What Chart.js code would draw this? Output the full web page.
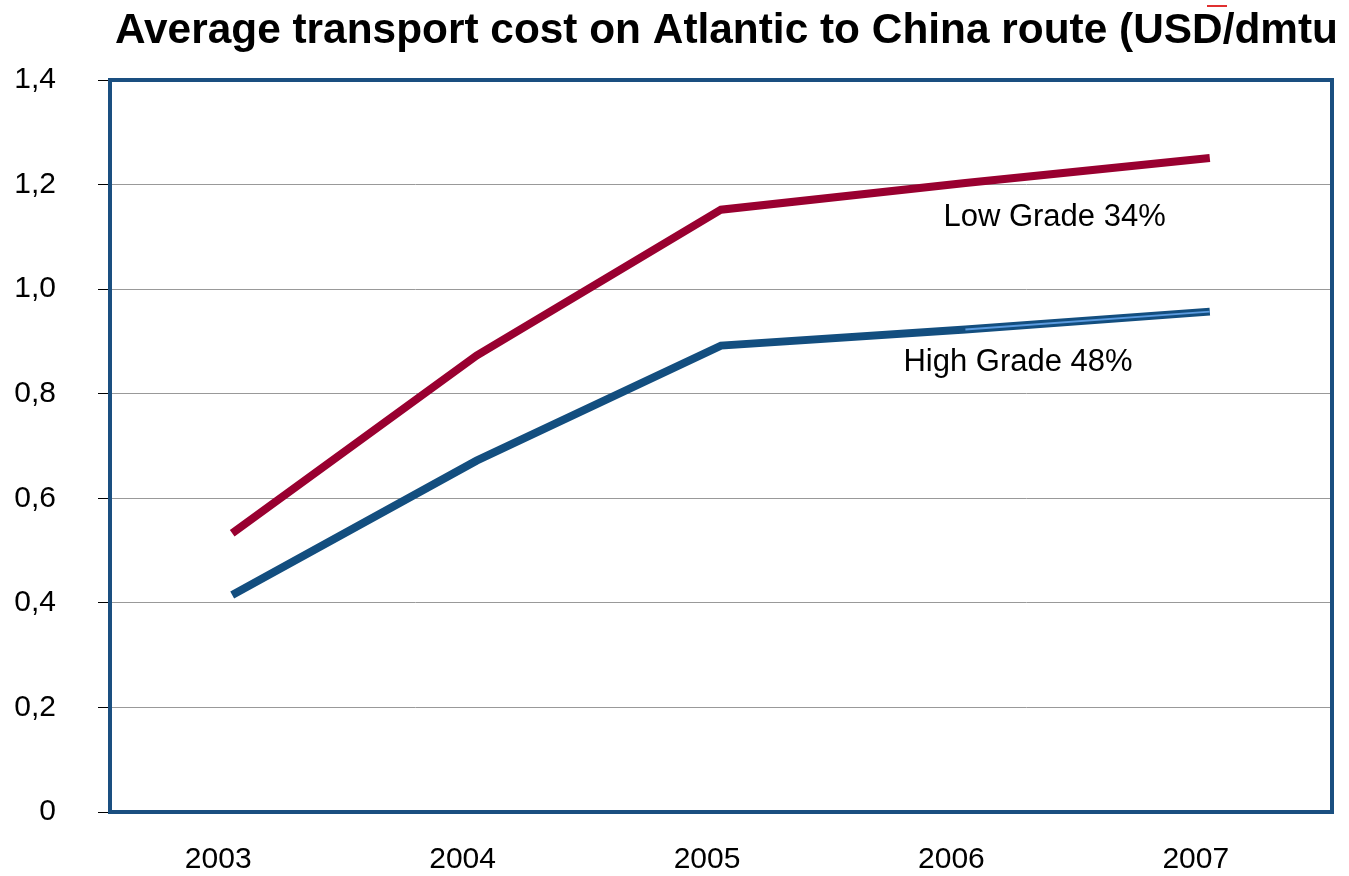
<!DOCTYPE html>
<html>
<head>
<meta charset="utf-8">
<script src="https://cdn.jsdelivr.net/npm/chart.js@4/dist/chart.umd.min.js"></script>
<style>
  html, body { margin: 0; padding: 0; background: #ffffff; }
  #wrap { width: 1349px; height: 876px; position: relative; }
</style>
</head>
<body>
<div id="wrap"><canvas id="c" width="1349" height="876"></canvas></div>
<script>
// ---- data ----
const titleText = 'Average transport cost on Atlantic to China route (USD/dmtu';
const years = ['2003', '2004', '2005', '2006', '2007'];
const lowGrade = [0.533, 0.873, 1.152, 1.203, 1.251];
const highGrade = [0.415, 0.672, 0.892, 0.923, 0.957];
const yTickLabels = ['0', '0,2', '0,4', '0,6', '0,8', '1,0', '1,2', '1,4'];
const lowLabel = 'Low Grade 34%';
const highLabel = 'High Grade 48%';

const RED = '#990030';
const BLUE = '#134e7f';
const LIGHTBLUE = '#5b9be0';
const FONT = '"Liberation Sans", Arial, sans-serif';

// highlight stripe on the last High Grade segment (2006-2007)
const highHighlight = highGrade.map((v, i) => (i >= 3 ? v : null));

const decorPlugin = {
  id: 'decor',
  beforeDatasetsDraw(chart) {
    const { ctx, chartArea: a } = chart;
    ctx.save();
    ctx.strokeStyle = '#1a4f80';
    ctx.lineWidth = 4;
    ctx.strokeRect(a.left, a.top, a.right - a.left, a.bottom - a.top);
    ctx.restore();
  },
  afterDraw(chart) {
    const { ctx, scales } = chart;
    const x = scales.x, y = scales.y;
    ctx.save();
    // title (horizontally condensed)
    ctx.font = 'bold 42px ' + FONT;
    ctx.fillStyle = '#000';
    ctx.textBaseline = 'alphabetic';
    ctx.textAlign = 'left';
    const w = ctx.measureText(titleText).width;
    const target = 1223;
    ctx.translate(115, 43);
    ctx.scale(target / w, 1);
    ctx.fillText(titleText, 0, 0);
    ctx.restore();

    ctx.save();
    ctx.strokeStyle = '#e03030';
    ctx.lineWidth = 2;
    ctx.beginPath();
    ctx.moveTo(1207, 6);
    ctx.lineTo(1227, 6);
    ctx.stroke();
    ctx.restore();

    // series labels
    ctx.save();
    ctx.font = '31px ' + FONT;
    ctx.fillStyle = '#000';
    ctx.textAlign = 'left';
    ctx.textBaseline = 'alphabetic';
    ctx.fillText(lowLabel, x.getPixelForValue(3) - 22, y.getPixelForValue(1.12));
    ctx.fillText(highLabel, x.getPixelForValue(3) - 62, y.getPixelForValue(0.843));
    ctx.restore();
  }
};

new Chart(document.getElementById('c'), {
  type: 'line',
  data: {
    labels: years,
    datasets: [
      {
        label: 'Low Grade 34%',
        data: lowGrade,
        borderColor: RED,
        borderWidth: 8,
        borderCapStyle: 'butt',
        pointRadius: 0,
        tension: 0,
        fill: false,
        order: 1
      },
      {
        label: 'High Grade 48%',
        data: highGrade,
        borderColor: BLUE,
        borderWidth: 8,
        borderCapStyle: 'butt',
        pointRadius: 0,
        tension: 0,
        fill: false,
        order: 1
      },
      {
        label: 'highlight',
        data: highHighlight,
        borderColor: LIGHTBLUE,
        borderWidth: 2,
        borderCapStyle: 'butt',
        pointRadius: 0,
        tension: 0,
        fill: false,
        spanGaps: false,
        order: 0
      }
    ]
  },
  options: {
    responsive: false,
    animation: false,
    events: [],
    layout: { padding: { left: 0, right: 17, top: 80, bottom: 0 } },
    plugins: {
      legend: { display: false },
      tooltip: { enabled: false },
      title: { display: false }
    },
    scales: {
      x: {
        offset: true,
        grid: { display: false, drawTicks: false },
        border: { display: false },
        ticks: {
          color: '#000',
          font: { family: FONT, size: 30 },
          padding: 30,
          labelOffset: -14,
          maxRotation: 0
        },
        afterFit(s) { s.height = 64; }
      },
      y: {
        min: 0,
        max: 1.4,
        grid: {
          color: '#999999',
          lineWidth: 1,
          tickColor: '#000000',
          tickLength: 12,
          drawTicks: true
        },
        border: { display: false },
        ticks: {
          stepSize: 0.2,
          color: '#000',
          font: { family: FONT, size: 30 },
          padding: 42,
          callback: (v, i) => yTickLabels[i]
        },
        afterFit(s) { s.width = 110; }
      }
    }
  },
  plugins: [decorPlugin]
});
</script>
</body>
</html>
